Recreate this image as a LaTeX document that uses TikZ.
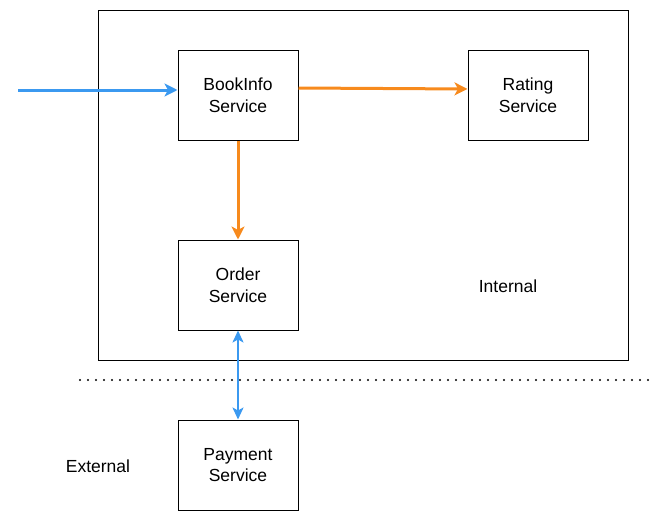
\documentclass[tikz,border=0pt]{standalone}
\usepackage{fontspec}
\setmainfont{Liberation Sans}
\usetikzlibrary{arrows.meta}
\definecolor{flowblue}{HTML}{3B99F0}
\definecolor{floworange}{HTML}{F78A1D}
\begin{document}
\begin{tikzpicture}[x=1pt,y=-1pt,
  svc/.style={draw=black,line width=1pt,minimum width=120pt,minimum height=90pt,inner sep=0pt,
    align=center,font=\fontsize{17.5}{21.5}\selectfont},
  lbl/.style={font=\fontsize{17.5}{21}\selectfont,inner sep=0pt},
  bluearrow/.style={draw=flowblue,line width=3pt,-{Stealth[length=13pt,width=13pt,inset=3.5pt]}},
  orangearrow/.style={draw=floworange,line width=3pt,-{Stealth[length=13pt,width=13pt,inset=3.5pt]}},
  biarrow/.style={draw=flowblue,line width=2pt,{Stealth[length=12pt,width=11pt,inset=3pt]}-{Stealth[length=12pt,width=11pt,inset=3pt]}}]
\useasboundingbox (0,0) rectangle (661,522);
\draw[line width=1pt] (98,10) rectangle (628,360);
\node[svc] (book) at (238,95) {BookInfo\\Service};
\node[svc] (rating) at (528,95) {Rating\\Service};
\node[svc] (order) at (238,285) {Order\\Service};
\node[svc] (pay) at (238,465) {Payment\\Service};
\node[lbl] (internal) at (508,286) {Internal};
\node[lbl] (external) at (98,466) {External};
\coordinate (src) at (18,90);
\coordinate (dotl) at (80,380);
\coordinate (dotr) at (650,380);
\draw[line width=2.3pt,dash pattern=on 0pt off 8pt,line cap=round] (dotl) -- (dotr);
\draw[bluearrow] (src) -- (book.west |- src);
\draw[orangearrow] ([yshift=7pt]book.east) -- ([yshift=6pt]rating.west);
\draw[orangearrow] (book.south) -- (order.north);
\draw[biarrow] (order.south) -- (pay.north);
\end{tikzpicture}
\end{document}
